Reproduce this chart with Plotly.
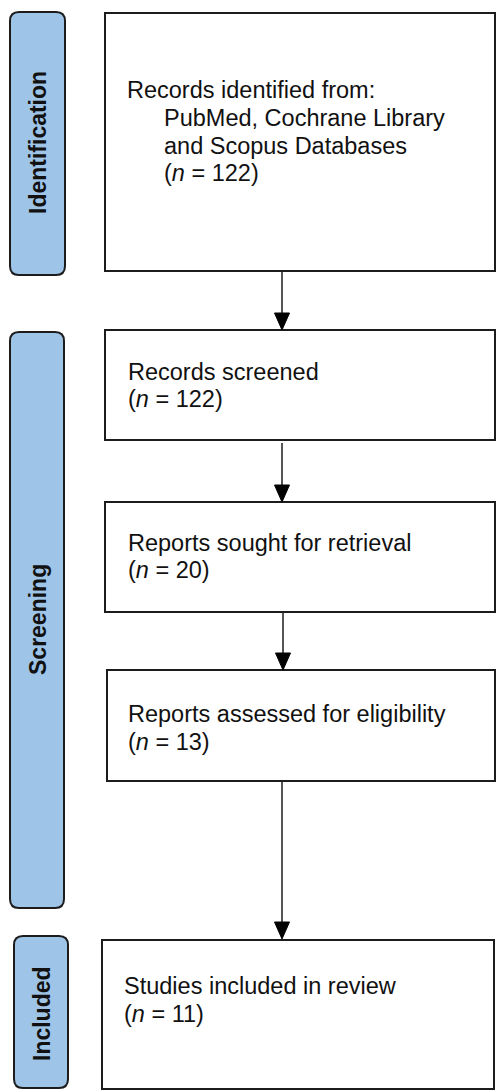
import plotly.graph_objects as go

# ---- data ----
stage_labels = ["Identification", "Screening", "Included"]
box_titles = [
    ["Records identified from:", "PubMed, Cochrane Library", "and Scopus Databases"],
    ["Records screened"],
    ["Reports sought for retrieval"],
    ["Reports assessed for eligibility"],
    ["Studies included in review"],
]
box_counts = [122, 122, 20, 13, 11]

# ---- layout (pixel geometry) ----
W, H = 496, 1090
stage_rects = [(10, 65, 12, 275), (10, 64, 332, 908), (14, 68, 936, 1088)]
stage_text_xy = [(38, 143), (38, 620), (42, 1014)]
box_rects = [(105, 495, 13, 271), (105, 495, 330, 440), (105, 495, 502, 612),
             (107, 495, 670, 781), (102, 494, 940, 1089)]
box_text_x = [125, 126, 126, 126, 122]
box_indent_x = 162
box_line_y = [[90, 118, 146, 173], [372, 399], [543, 570], [714, 742], [986, 1014]]
arrows = [(282, 271, 330), (282, 443, 502), (283, 612, 670), (282, 781, 939)]

FILL = "#9ec4e8"
EDGE = "#1c1c1c"
FONT = "Liberation Sans, Arial, sans-serif"
FS = 23.5
FS_SIDE = 23

fig = go.Figure()
shapes = []
annotations = []


def rounded(x0, x1, y0, y1, r):
    return (f"M {x0+r},{y0} L {x1-r},{y0} Q {x1},{y0} {x1},{y0+r} "
            f"L {x1},{y1-r} Q {x1},{y1} {x1-r},{y1} L {x0+r},{y1} "
            f"Q {x0},{y1} {x0},{y1-r} L {x0},{y0+r} Q {x0},{y0} {x0+r},{y0} Z")


for (x0, x1, y0, y1), lab, (tx, ty) in zip(stage_rects, stage_labels, stage_text_xy):
    shapes.append(dict(type="path", path=rounded(x0, x1, y0, y1, 9), xref="x", yref="y",
                       fillcolor=FILL, line=dict(color=EDGE, width=2)))
    annotations.append(dict(x=tx, y=ty, xref="x", yref="y", text=f"<b>{lab}</b>",
                            textangle=-90, showarrow=False,
                            font=dict(family=FONT, size=FS_SIDE, color="#111111"),
                            xanchor="center", yanchor="middle"))

for i, ((x0, x1, y0, y1), titles, n) in enumerate(zip(box_rects, box_titles, box_counts)):
    shapes.append(dict(type="rect", x0=x0, x1=x1, y0=y0, y1=y1, xref="x", yref="y",
                       fillcolor="white", line=dict(color=EDGE, width=2)))
    lines = titles + [f"(<i>n</i> = {n})"]
    for j, (txt, ly) in enumerate(zip(lines, box_line_y[i])):
        lx = box_text_x[i] if (i != 0 or j == 0) else box_indent_x
        annotations.append(dict(x=lx, y=ly, xref="x", yref="y", text=txt, showarrow=False,
                                font=dict(family=FONT, size=FS, color="#111111"),
                                xanchor="left", yanchor="middle"))

for ax, ys, ye in arrows:
    shapes.append(dict(type="line", x0=ax, x1=ax, y0=ys, y1=ye - 14, xref="x", yref="y",
                       line=dict(color=EDGE, width=1.5)))
    shapes.append(dict(type="path", xref="x", yref="y",
                       path=f"M {ax-7.5},{ye-17} L {ax+7.5},{ye-17} L {ax},{ye} Z",
                       fillcolor="#000000", line=dict(color="#000000", width=1)))

fig.update_layout(
    width=W, height=H, margin=dict(l=0, r=0, t=0, b=0),
    paper_bgcolor="white", plot_bgcolor="white",
    xaxis=dict(range=[0, W], visible=False, fixedrange=True),
    yaxis=dict(range=[H, 0], visible=False, fixedrange=True),
    shapes=shapes, annotations=annotations, showlegend=False,
)

fig.write_html(
    "out.html",
    config={"displayModeBar": False},
    post_script="document.body.style.margin='0px';document.documentElement.style.overflow='hidden';document.body.style.overflow='hidden';",
)
